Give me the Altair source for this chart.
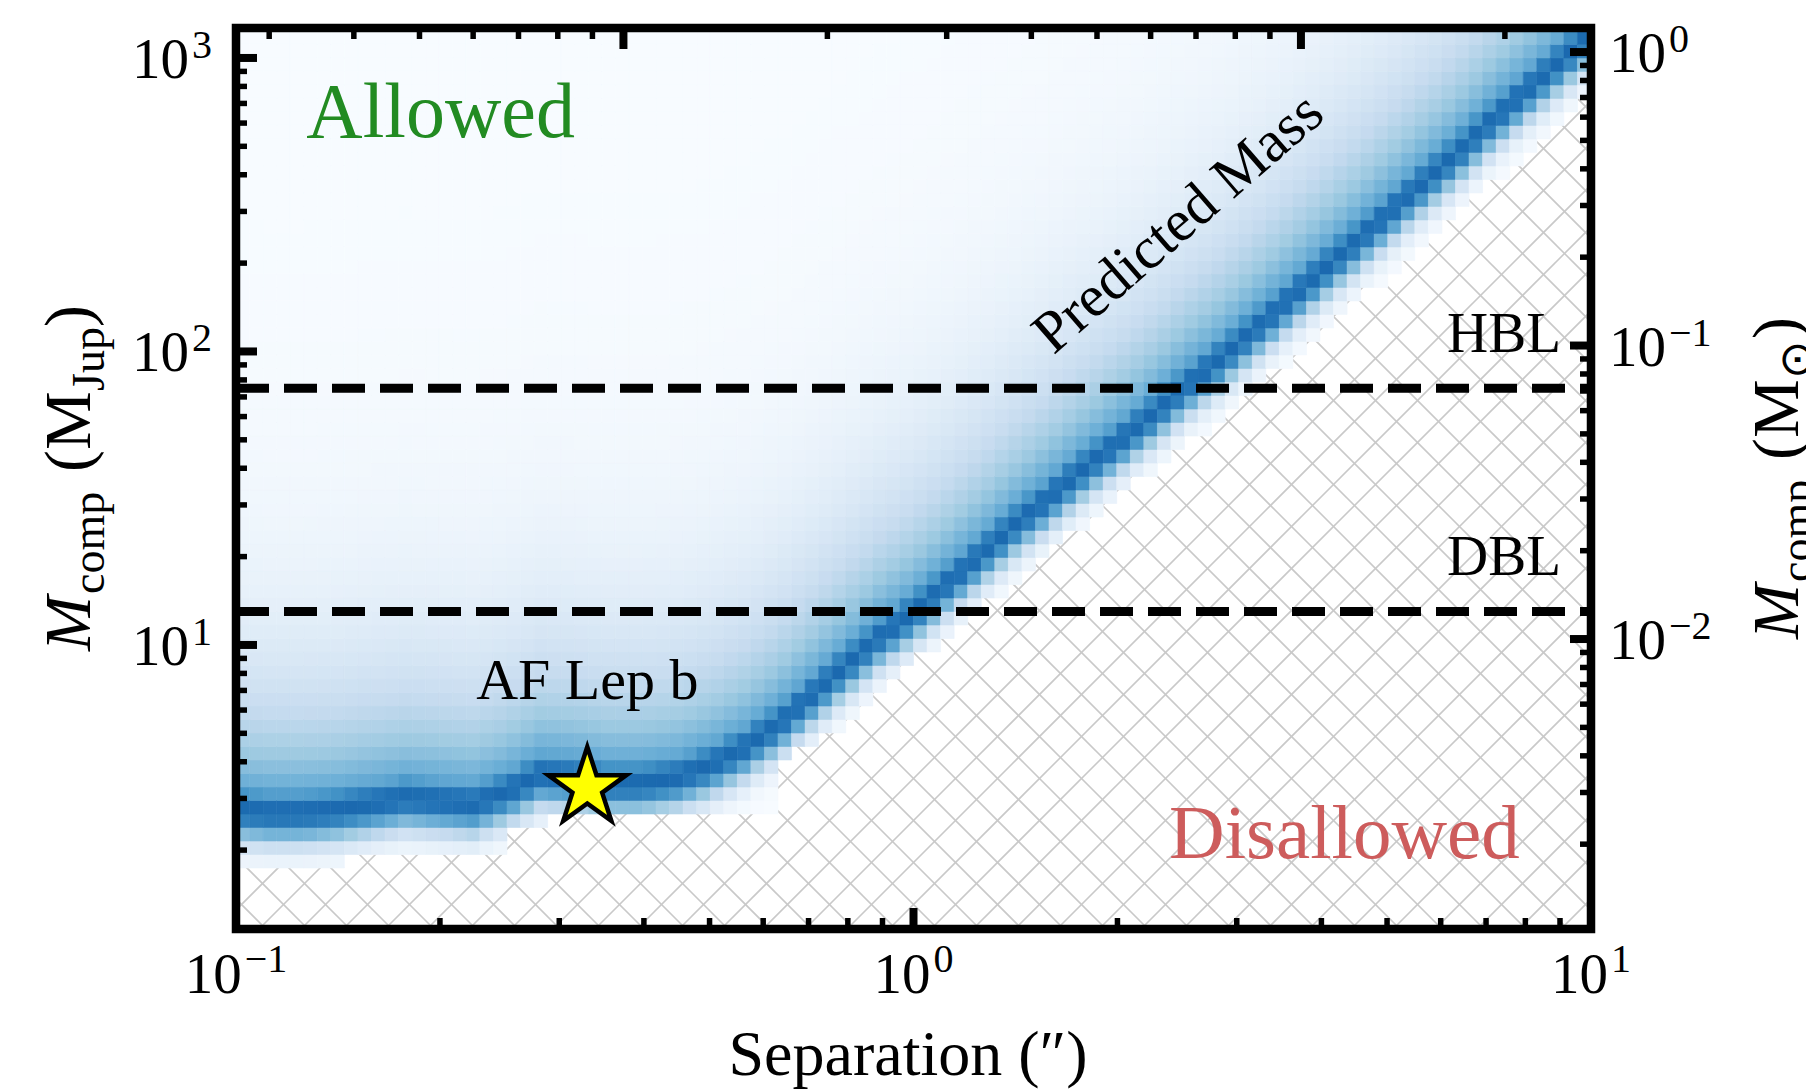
import numpy as np
import pandas as pd
import altair as alt

# ------------------------------------------------------------------
# Values
# ------------------------------------------------------------------
# ridge (darkest cells) of the predicted-mass density: separation ["] -> mass [M_Jup]
RIDGE_SEP = [0.1, 0.112, 0.126, 0.141, 0.158, 0.178, 0.2, 0.224, 0.251, 0.282,
             0.316, 0.355, 0.398, 0.447, 0.501, 0.562, 0.631, 0.708, 0.794, 0.891,
             1.0, 1.12, 1.26, 1.41, 1.58, 1.78, 2.0, 2.24, 2.51, 2.82,
             3.16, 3.55, 3.98, 4.47, 5.01, 5.62, 6.31, 7.08, 7.94, 8.91, 10.0]
RIDGE_MASS = [2.75, 2.69, 2.69, 2.75, 2.88, 3.02, 2.95, 2.88, 3.16, 3.63,
              3.55, 3.39, 3.39, 3.55, 3.89, 4.47, 5.37, 6.76, 8.51, 10.7,
              12.9, 16.2, 20.4, 25.7, 31.6, 39.8, 49.0, 60.3, 75.9, 93.3,
              117, 148, 186, 234, 295, 372, 468, 603, 759, 955, 1202]
# lowest populated mass per separation (upper edge of the hatched region)
EDGE_SEP = [0.1, 0.141, 0.1445, 0.245, 0.251, 0.282, 0.288, 0.631, 0.646, 0.692,
            0.794, 0.891, 1.0, 1.26, 1.58, 2.0, 2.51, 3.16, 3.98, 5.01, 6.31, 7.94, 10.0]
EDGE_MASS = [1.74, 1.74, 1.95, 1.95, 2.29, 2.29, 2.57, 2.57, 3.98, 4.57,
             5.37, 6.92, 8.71, 13.2, 20.4, 31.6, 47.9, 72.4, 115, 182, 288, 468, 759]

LIMIT_MASS = [75.0, 13.0]            # HBL, DBL
LIMIT_NAMES = ["HBL", "DBL"]
LIMIT_LABEL_MASS = [99.6, 17.3]
LIMIT_LABEL_SEP = [9.03, 9.03]

PLANET = ["AF Lep b"]
PLANET_SEP = [0.33]
PLANET_MASS = [3.26]
PLANET_LABEL_MASS = [6.52]

REGION_TEXT = ["Allowed", "Disallowed"]
REGION_SEP = [0.127, 7.85]
REGION_MASS = [540.0, 1.88]
REGION_COLOR = ["#228b22", "#cd5c5c"]

CURVE_TEXT = ["Predicted Mass"]
CURVE_SEP = [2.56]
CURVE_MASS = [246.0]

X_DOMAIN = [0.1, 10.0]
Y_DOMAIN = [1.077, 1265.0]

X_MAJOR = [0.1, 1.0, 10.0]
X_MAJOR_EXP = ["\u22121", "0", "1"]
X_MINOR = [0.2, 0.3, 0.4, 0.5, 0.6, 0.7, 0.8, 0.9, 2, 3, 4, 5, 6, 7, 8, 9]
Y_MAJOR = [10, 100, 1000]
Y_MAJOR_EXP = ["1", "2", "3"]
Y_MINOR = [2, 3, 4, 5, 6, 7, 8, 9, 20, 30, 40, 50, 60, 70, 80, 90,
           200, 300, 400, 500, 600, 700, 800, 900]
MSUN_MAJOR = [1.0, 0.1, 0.01]
MSUN_MAJOR_EXP = ["0", "\u22121", "\u22122"]
MSUN_MINOR = [0.002, 0.003, 0.004, 0.005, 0.006, 0.007, 0.008, 0.009,
              0.02, 0.03, 0.04, 0.05, 0.06, 0.07, 0.08, 0.09,
              0.2, 0.3, 0.4, 0.5, 0.6, 0.7, 0.8, 0.9]
AU_MAJOR = [10, 100]
AU_MINOR = [3, 4, 5, 6, 7, 8, 9, 20, 30, 40, 50, 60, 70, 80, 90, 200]
DIST_PC = 26.8
MJUP_PER_MSUN = 1047.57

# ------------------------------------------------------------------
# Layout / style
# ------------------------------------------------------------------
W, H = 1355, 901
PAD = {"left": 236, "top": 28, "right": 215, "bottom": 162}
FONT = "Liberation Serif"
BLUES = ["#f7fbff", "#deebf7", "#c6dbef", "#9ecae1", "#6baed6",
         "#4292c6", "#2171b5", "#08519c", "#08306b"]
BLUES_DOM = [i / 8 for i in range(9)]
PEAK, SIG_BELOW, SIG_ABOVE, HALO_AMP, HALO_SCALE = 0.78, 0.075, 0.08, 0.65, 0.36

XS = alt.Scale(type="log", domain=X_DOMAIN, nice=False)
YS = alt.Scale(type="log", domain=Y_DOMAIN, nice=False)


def X(f):
    return alt.X(f, type="quantitative", scale=XS, axis=None)


def Y(f):
    return alt.Y(f, type="quantitative", scale=YS, axis=None)


lymin, lymax = np.log10(Y_DOMAIN)

# ------------------------------------------------------------------
# density grid built from the read ridge / edge curves
# ------------------------------------------------------------------
lx_edges = np.linspace(-1.0, 1.0, 101)
ly_edges = 0.24 + 0.046 * np.arange(-6, 64)
r_lx, r_ly = np.log10(RIDGE_SEP), np.log10(RIDGE_MASS)
e_lx, e_ly = np.log10(EDGE_SEP), np.log10(EDGE_MASS)

cells, cover = [], []
for i in range(len(lx_edges) - 1):
    a, b = lx_edges[i], lx_edges[i + 1]
    c = 0.5 * (a + b)
    m = np.interp(c, r_lx, r_ly)
    edge = np.interp(c, e_lx, e_ly)
    first = None
    for j in range(len(ly_edges) - 1):
        t0, t1 = ly_edges[j], ly_edges[j + 1]
        if t0 < edge - 0.023 or t0 >= lymax:
            continue
        if first is None:
            first = t0
        d = 0.5 * (t0 + t1) - m
        if d < 0:
            v = PEAK * np.exp(-0.5 * (d / SIG_BELOW) ** 2)
        else:
            v = max(PEAK * np.exp(-0.5 * (d / SIG_ABOVE) ** 2),
                    HALO_AMP * np.exp(-d / HALO_SCALE))
        cells.append({"x0": round(10 ** a, 6), "x1": round(10 ** b, 6),
                      "y0": round(10 ** t0, 6), "y1": round(10 ** t1, 6),
                      "v": round(float(v), 4)})
    cover.append({"x": round(10 ** a, 6), "y": round(10 ** first, 6), "top": Y_DOMAIN[1]})
cover.append({"x": 10 ** lx_edges[-1], "y": cover[-1]["y"], "top": Y_DOMAIN[1]})
cells_df = pd.DataFrame(cells)
cover_df = pd.DataFrame(cover)


def px2data(u, v):
    return 10 ** (-1 + 2.0 * u / W), 10 ** (lymax - (lymax - lymin) * v / H)


HP = 42
hatch = []
for k in np.arange(-W - HP, H + HP, HP):        # "\" lines
    u0, u1 = -60, W + 60
    x0, y0 = px2data(u0, u0 + k)
    x1, y1 = px2data(u1, u1 + k)
    hatch.append({"x": x0, "y": y0, "x2": x1, "y2": y1})
for k in np.arange(0, W + H + HP, HP):           # "/" lines
    u0, u1 = -60, W + 60
    x0, y0 = px2data(u0, k - u0)
    x1, y1 = px2data(u1, k - u1)
    hatch.append({"x": x0, "y": y0, "x2": x1, "y2": y1})
hatch_df = pd.DataFrame(hatch)

layers = []

# hatch
layers.append(alt.Chart(hatch_df).mark_rule(color="#c9c9c9", strokeWidth=1.6, clip=True).encode(
    x=X("x"), y=Y("y"), x2="x2", y2="y2"))
# cover of allowed region
layers.append(alt.Chart(cover_df).mark_area(interpolate="step-after", color="#f7fbff", clip=True).encode(
    x=X("x"), y=Y("y"), y2="top"))
# density cells
cscale = alt.Scale(domain=BLUES_DOM, range=BLUES, interpolate="rgb")
layers.append(alt.Chart(cells_df).mark_rect(strokeWidth=0.6, clip=True).encode(
    x=X("x0"), x2="x1", y=Y("y0"), y2="y1",
    color=alt.Color("v:Q", scale=cscale, legend=None),
    stroke=alt.Stroke("v:Q", scale=cscale, legend=None)))

# dashed limits
lim_df = pd.DataFrame({"m": LIMIT_MASS})
layers.append(alt.Chart(lim_df).mark_rule(color="black", strokeWidth=9, strokeDash=[33, 15],
                                          strokeCap="butt").encode(
    y=Y("m"), x=alt.value(0), x2=alt.value(W)))
lab_df = pd.DataFrame({"s": LIMIT_LABEL_SEP, "m": LIMIT_LABEL_MASS, "t": LIMIT_NAMES})
layers.append(alt.Chart(lab_df).mark_text(font=FONT, fontSize=57, align="right", baseline="alphabetic",
                                          color="black").encode(x=X("s"), y=Y("m"), text="t:N"))

# region texts
layers.append(alt.Chart(pd.DataFrame({"s": REGION_SEP[:1], "m": REGION_MASS[:1], "t": REGION_TEXT[:1]}))
              .mark_text(font=FONT, fontSize=78, align="left", baseline="alphabetic", color=REGION_COLOR[0])
              .encode(x=X("s"), y=Y("m"), text="t:N"))
layers.append(alt.Chart(pd.DataFrame({"s": REGION_SEP[1:], "m": REGION_MASS[1:], "t": REGION_TEXT[1:]}))
              .mark_text(font=FONT, fontSize=77, align="right", baseline="alphabetic", color=REGION_COLOR[1])
              .encode(x=X("s"), y=Y("m"), text="t:N"))
layers.append(alt.Chart(pd.DataFrame({"s": CURVE_SEP, "m": CURVE_MASS, "t": CURVE_TEXT}))
              .mark_text(font=FONT, fontSize=59, align="center", baseline="alphabetic", angle=319,
                         color="black")
              .encode(x=X("s"), y=Y("m"), text="t:N"))
layers.append(alt.Chart(pd.DataFrame({"s": PLANET_SEP, "m": PLANET_LABEL_MASS, "t": PLANET}))
              .mark_text(font=FONT, fontSize=58, align="center", baseline="alphabetic", color="black")
              .encode(x=X("s"), y=Y("m"), text="t:N"))

STAR = ("M0,-1L0.2245,-0.309L0.951,-0.309L0.363,0.118L0.588,0.809L0,0.382"
        "L-0.588,0.809L-0.363,0.118L-0.951,-0.309L-0.2245,-0.309Z")
layers.append(alt.Chart(pd.DataFrame({"s": PLANET_SEP, "m": PLANET_MASS}))
              .mark_point(shape=STAR, size=6700, filled=True, fill="#ffff00", stroke="black",
                          strokeWidth=4.5, opacity=1)
              .encode(x=X("s"), y=Y("m")))

# inward ticks
MAJ_L, MAJ_W, MIN_L, MIN_W = 21, 8, 11, 5.5


def ticks(vals, side, length, width):
    df = pd.DataFrame({"v": vals})
    mk = alt.Chart(df).mark_rule(color="black", strokeWidth=width, strokeCap="butt")
    if side == "left":
        return mk.encode(y=Y("v"), x=alt.value(0), x2=alt.value(length))
    if side == "right":
        return mk.encode(y=Y("v"), x=alt.value(W), x2=alt.value(W - length))
    if side == "bottom":
        return mk.encode(x=X("v"), y=alt.value(H), y2=alt.value(H - length))
    return mk.encode(x=X("v"), y=alt.value(0), y2=alt.value(length))


layers += [
    ticks(Y_MAJOR, "left", MAJ_L, MAJ_W), ticks(Y_MINOR, "left", MIN_L, MIN_W),
    ticks([m * MJUP_PER_MSUN for m in MSUN_MAJOR], "right", MAJ_L, MAJ_W),
    ticks([m * MJUP_PER_MSUN for m in MSUN_MINOR], "right", MIN_L, MIN_W),
    ticks(X_MAJOR, "bottom", MAJ_L, MAJ_W), ticks(X_MINOR, "bottom", MIN_L, MIN_W),
    ticks([a / DIST_PC for a in AU_MAJOR], "top", MAJ_L, MAJ_W),
    ticks([a / DIST_PC for a in AU_MINOR], "top", MIN_L, MIN_W),
]

# frame
layers.append(alt.Chart(pd.DataFrame({"a": [0]})).mark_rect(
    filled=False, stroke="black", strokeWidth=8.5, strokeJoin="miter").encode(
    x=alt.value(0), x2=alt.value(W), y=alt.value(0), y2=alt.value(H)))

# tick labels (10 with superscript exponent)
BASE_FS, EXP_FS, BASE_W, GAP = 57, 40, 57, 3


def exp_width(s):
    return sum(0.564 if ch == "\u2212" else 0.5 for ch in s) * EXP_FS


for val, ex in zip(X_MAJOR, X_MAJOR_EXP):
    T = BASE_W + GAP + exp_width(ex)
    d = pd.DataFrame({"v": [val], "b": ["10"], "e": [ex]})
    layers.append(alt.Chart(d).mark_text(font=FONT, fontSize=BASE_FS, align="left", baseline="alphabetic",
                                         dx=-T / 2, color="black")
                  .encode(x=X("v"), y=alt.value(H + 64), text="b:N"))
    layers.append(alt.Chart(d).mark_text(font=FONT, fontSize=EXP_FS, align="left", baseline="alphabetic",
                                         dx=-T / 2 + BASE_W + GAP, color="black")
                  .encode(x=X("v"), y=alt.value(H + 43), text="e:N"))

dl = pd.DataFrame({"v": Y_MAJOR, "b": ["10"] * len(Y_MAJOR), "e": Y_MAJOR_EXP})
layers.append(alt.Chart(dl).mark_text(font=FONT, fontSize=BASE_FS, align="right", baseline="alphabetic",
                                      dy=20, color="black")
              .encode(y=Y("v"), x=alt.value(-47), text="b:N"))
layers.append(alt.Chart(dl).mark_text(font=FONT, fontSize=EXP_FS, align="left", baseline="alphabetic",
                                      dy=0, color="black")
              .encode(y=Y("v"), x=alt.value(-44), text="e:N"))

dr = pd.DataFrame({"v": [m * MJUP_PER_MSUN for m in MSUN_MAJOR], "b": ["10"] * 3, "e": MSUN_MAJOR_EXP})
layers.append(alt.Chart(dr).mark_text(font=FONT, fontSize=BASE_FS, align="left", baseline="alphabetic",
                                      dy=20, color="black")
              .encode(y=Y("v"), x=alt.value(W + 18), text="b:N"))
layers.append(alt.Chart(dr).mark_text(font=FONT, fontSize=EXP_FS, align="left", baseline="alphabetic",
                                      dy=0, color="black")
              .encode(y=Y("v"), x=alt.value(W + 18 + BASE_W + GAP), text="e:N"))

# axis titles
layers.append(alt.Chart(pd.DataFrame({"t": ["Separation (\u2033)"]})).mark_text(
    font=FONT, fontSize=64, align="center", baseline="alphabetic", color="black").encode(
    x=alt.value(672), y=alt.value(H + 146), text="t:N"))

MAIN_FS, SUB_FS, SUB_DY = 66, 46, 14


def rotated_title(pieces, xpos, center):
    total = pieces[-1][1] + pieces[-1][4]
    y0 = center + total / 2
    out = []
    for txt, off, sub, italic, _w in pieces:
        kw = dict(font=FONT, fontSize=SUB_FS if sub else MAIN_FS, align="left", baseline="alphabetic",
                  angle=270, dx=off, dy=SUB_DY if sub else 0, color="black")
        if italic:
            kw["fontStyle"] = "italic"
        out.append(alt.Chart(pd.DataFrame({"t": [txt]})).mark_text(**kw).encode(
            x=alt.value(xpos), y=alt.value(y0), text="t:N"))
    return out


left_pieces = [("M", 0, False, True, 55), ("comp", 57, True, False, 102),
               ("(M", 179, False, False, 81), ("Jup", 260, True, False, 64), (")", 324, False, False, 22)]
right_pieces = [("M", 0, False, True, 55), ("comp", 57, True, False, 102),
                ("(M", 179, False, False, 81), ("\u2299", 260, True, False, 40), (")", 300, False, False, 22)]
layers += rotated_title(left_pieces, -146, 450)
layers += rotated_title(right_pieces, W + 207, 450)

chart = alt.layer(*layers).properties(
    width=W, height=H,
    autosize=alt.AutoSizeParams(type="none"),
    padding=PAD,
).configure_view(fill="#f7fbff", stroke="transparent").configure(background="white")

chart.save("out.html", embed_options={"renderer": "svg", "actions": False})
